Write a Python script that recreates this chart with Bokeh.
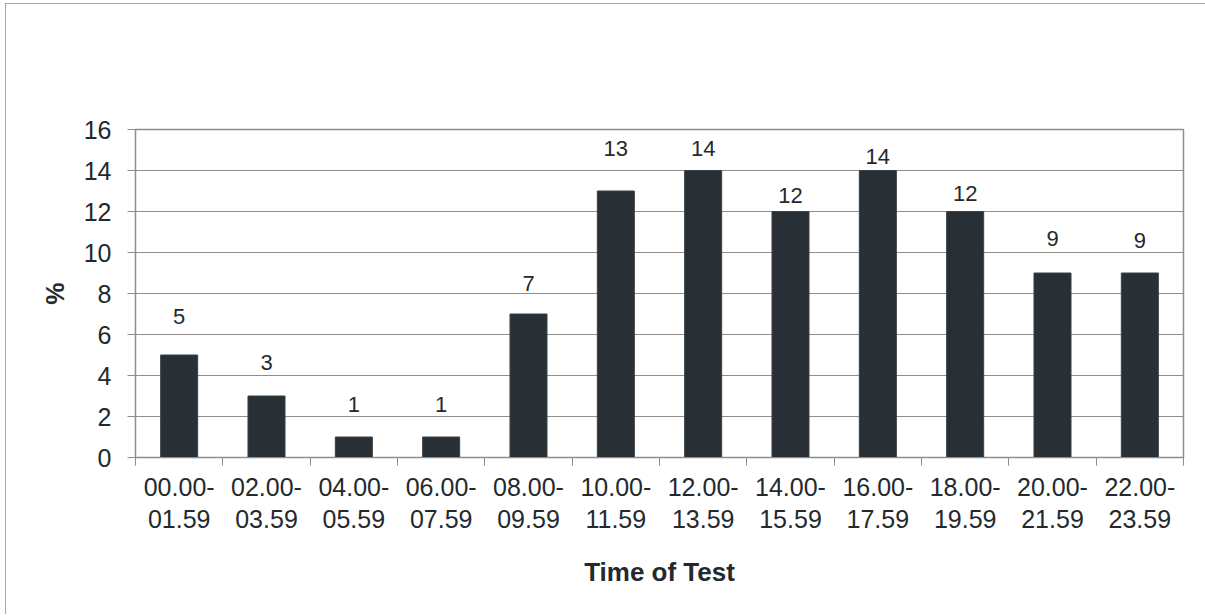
from bokeh.plotting import figure
from bokeh.models import ColumnDataSource, FixedTicker, Range1d, LabelSet
from bokeh.core.properties import value
from bokeh.embed import file_html
from bokeh.resources import INLINE

categories = ["00.00-\n01.59", "02.00-\n03.59", "04.00-\n05.59", "06.00-\n07.59",
              "08.00-\n09.59", "10.00-\n11.59", "12.00-\n13.59", "14.00-\n15.59",
              "16.00-\n17.59", "18.00-\n19.59", "20.00-\n21.59", "22.00-\n23.59"]
values = [5, 3, 1, 1, 7, 13, 14, 12, 14, 12, 9, 9]
y_ticks = [0, 2, 4, 6, 8, 10, 12, 14, 16]

# layout only: pixel gap between each bar top and its value label
label_gap_px = [31, 26, 25, 25, 23, 35, 15, 9, 7, 11, 27, 25]

n = len(categories)
centers = [i + 0.5 for i in range(n)]
src = ColumnDataSource(dict(x=centers, top=values, lab=[str(v) for v in values],
                            dy=label_gap_px))

FONT = "Liberation Sans"
TXT = "#24292d"
GRID = "#8e8e8e"

W, H = 1200, 611
p = figure(width=W, height=H, output_backend="svg", toolbar_location=None,
           x_range=Range1d(0, n), y_range=Range1d(0, 16),
           min_border_left=130, min_border_right=22, min_border_top=126, min_border_bottom=157)
p.margin = (3, 0, 0, 5)
p.styles = {"outline": "1px solid #8a8a8a", "outline-offset": "-1px"}

p.vbar(x="x", top="top", width=0.424, source=src, fill_color="#293035", line_color="#3a4045")
labels = LabelSet(x="x", y="top", text="lab", source=src, text_align="center",
                  text_baseline="alphabetic", y_offset="dy", text_font=value(FONT),
                  text_font_size="22px", text_color=TXT)
p.add_layout(labels)

p.outline_line_color = GRID
p.outline_line_width = 1.5
p.background_fill_color = "white"
p.border_fill_color = "white"

# x axis
xa = p.xaxis[0]
xa.ticker = FixedTicker(ticks=centers, minor_ticks=list(range(n + 1)))
xa.major_label_overrides = {c: lab for c, lab in zip(centers, categories)}
xa.major_tick_out = 0
xa.major_tick_in = 0
xa.minor_tick_out = 8
xa.minor_tick_in = 0
xa.minor_tick_line_color = GRID
xa.axis_line_color = GRID
xa.major_label_text_font = FONT
xa.major_label_text_font_size = "25px"
xa.major_label_text_line_height = 1.15
xa.major_label_text_color = TXT
xa.major_label_standoff = 7
xa.axis_label = "Time of Test"
xa.axis_label_text_font = FONT
xa.axis_label_text_font_style = "bold"
xa.axis_label_text_font_size = "26px"
xa.axis_label_text_color = TXT
xa.axis_label_standoff = 21

# y axis
ya = p.yaxis[0]
ya.ticker = FixedTicker(ticks=y_ticks, minor_ticks=[])
ya.major_tick_out = 8
ya.major_tick_in = 0
ya.major_tick_line_color = GRID
ya.axis_line_color = GRID
ya.minor_tick_line_color = None
ya.major_label_text_font = FONT
ya.major_label_text_font_size = "25px"
ya.major_label_text_color = TXT
ya.major_label_standoff = 16
ya.axis_label = "%"
ya.axis_label_text_font = FONT
ya.axis_label_text_font_style = "bold"
ya.axis_label_text_font_size = "25px"
ya.axis_label_text_color = TXT
ya.axis_label_standoff = 12

p.xgrid.grid_line_color = None
p.ygrid.ticker = FixedTicker(ticks=y_ticks)
p.ygrid.grid_line_color = GRID
p.ygrid.grid_line_width = 1

open("out.html", "w").write(file_html(p, INLINE))
